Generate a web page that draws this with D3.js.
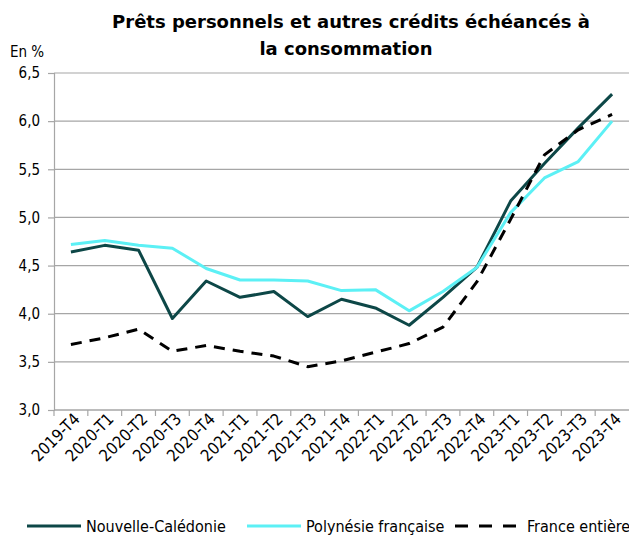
<!DOCTYPE html>
<html>
<head>
<meta charset="utf-8">
<script src="https://cdn.jsdelivr.net/npm/d3@7"></script>
<style>
  body { margin: 0; background: #fff; }
  svg text { font-family: "DejaVu Sans Condensed", "DejaVu Sans", sans-serif; fill: #000; }
</style>
</head>
<body>
<div id="chart"></div>
<script>
// quarters on the x axis
const quarters = ["2019-T4", "2020-T1", "2020-T2", "2020-T3", "2020-T4",
  "2021-T1", "2021-T2", "2021-T3", "2021-T4", "2022-T1", "2022-T2", "2022-T3", "2022-T4",
  "2023-T1", "2023-T2", "2023-T3", "2023-T4"];

// rates in %
const caledonie = [4.64, 4.71, 4.66, 3.95, 4.34, 4.17, 4.23, 3.97, 4.15, 4.06, 3.88, 4.17, 4.48, 5.17, 5.56, 5.93, 6.28];
const polynesie = [4.72, 4.76, 4.71, 4.68, 4.47, 4.35, 4.35, 4.34, 4.24, 4.25, 4.03, 4.23, 4.48, 5.05, 5.41, 5.58, 6.00];
const france = [3.68, 3.75, 3.84, 3.61, 3.67, 3.61, 3.56, 3.45, 3.51, 3.60, 3.69, 3.86, 4.33, 4.98, 5.65, 5.91, 6.07];

const yTicks = [3.0, 3.5, 4.0, 4.5, 5.0, 5.5, 6.0, 6.5];
const seriesNames = ["Nouvelle-Calédonie", "Polynésie française", "France entière"];

const width = 629, height = 536;
const margins = { top: 73, right: 0, bottom: 126, left: 54 };

const svg = d3.select("#chart").append("svg")
  .attr("width", width)
  .attr("height", height);

// scales
const x = d3.scaleBand()
  .domain(quarters)
  .range([margins.left, width - margins.right])
  .padding(0);

const y = d3.scaleLinear()
  .domain([3, 6.5])
  .range([height - margins.bottom, margins.top]);

const gridColor = "#a6a6a6";

// horizontal grid
svg.append("g")
  .selectAll("line")
  .data(yTicks)
  .join("line")
    .attr("x1", margins.left)
    .attr("x2", width - margins.right)
    .attr("y1", d => y(d))
    .attr("y2", d => y(d))
    .attr("stroke", gridColor)
    .attr("stroke-width", 1.2);

// y axis
const yAxis = svg.append("g")
  .attr("transform", `translate(${margins.left},0)`)
  .call(d3.axisLeft(y).tickValues(yTicks).tickSize(6).tickPadding(8)
    .tickFormat(d => d.toFixed(1).replace(".", ",")));
yAxis.select(".domain").attr("stroke", gridColor).attr("stroke-width", 1.2);
yAxis.selectAll(".tick line").attr("stroke", gridColor).attr("stroke-width", 1.2);
yAxis.selectAll("text").style("font-size", "15px");

// x axis : ticks between the quarters
const xAxis = svg.append("g")
  .attr("transform", `translate(0,${y(3)})`)
  .call(d3.axisBottom(x).tickSize(0).tickPadding(0));
xAxis.select(".domain").remove();
xAxis.append("line")
  .attr("x1", margins.left)
  .attr("x2", width - margins.right)
  .attr("stroke", gridColor)
  .attr("stroke-width", 1.2);
xAxis.selectAll(".sep")
  .data(quarters)
  .join("line")
    .attr("class", "sep")
    .attr("x1", d => x(d))
    .attr("x2", d => x(d))
    .attr("y1", 0)
    .attr("y2", 6)
    .attr("stroke", gridColor)
    .attr("stroke-width", 1.2);
xAxis.selectAll(".tick text")
  .style("font-size", "16.5px")
  .attr("text-anchor", "end")
  .attr("dy", 0)
  .attr("transform", "translate(10,10) rotate(-45)");

// lines
const series = [
  { name: seriesNames[0], values: caledonie, color: "#0d4747", dash: null },
  { name: seriesNames[1], values: polynesie, color: "#5cf0f5", dash: null },
  { name: seriesNames[2], values: france, color: "#000000", dash: "11,8" }
];

const line = d3.line()
  .x((d, i) => x(quarters[i]) + x.bandwidth() / 2)
  .y(d => y(d));

svg.append("g")
  .selectAll("path")
  .data(series)
  .join("path")
    .attr("fill", "none")
    .attr("stroke", d => d.color)
    .attr("stroke-width", 3)
    .attr("stroke-linejoin", "round")
    .attr("stroke-dasharray", d => d.dash)
    .attr("d", d => line(d.values));

// title
const title = svg.append("text")
  .attr("text-anchor", "middle")
  .style("font-family", "'DejaVu Sans', sans-serif")
  .style("font-size", "18px")
  .style("font-weight", "bold");
title.append("tspan").attr("x", 351).attr("y", 28).text("Prêts personnels et autres crédits échéancés à");
title.append("tspan").attr("x", 346).attr("y", 55).text("la consommation");

// unit label
svg.append("text")
  .attr("x", 10)
  .attr("y", 57)
  .style("font-size", "15px")
  .text("En %");

// legend
const legendX = [27, 247, 455];
const legend = svg.append("g")
  .selectAll("g")
  .data(series)
  .join("g")
    .attr("transform", (d, i) => `translate(${legendX[i]},526)`);

legend.append("line")
  .attr("x1", 0)
  .attr("x2", (d, i) => i === 2 ? 67 : 54)
  .attr("stroke", d => d.color)
  .attr("stroke-width", 3)
  .attr("stroke-dasharray", d => d.dash ? "13,11" : null);

legend.append("text")
  .attr("x", (d, i) => i === 2 ? 72 : 59)
  .attr("dy", "0.35em")
  .style("font-size", "16px")
  .text(d => d.name);
</script>
</body>
</html>
